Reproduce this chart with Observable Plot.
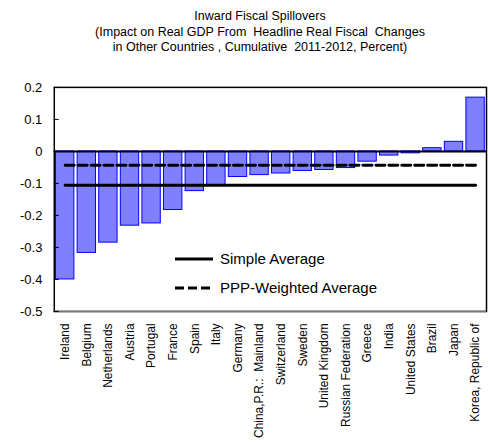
<!DOCTYPE html>
<html>
<head>
<meta charset="utf-8">
<script src="https://cdn.jsdelivr.net/npm/d3@7"></script>
<script src="https://cdn.jsdelivr.net/npm/@observablehq/plot@0.6"></script>
<style>
  html, body { margin: 0; padding: 0; background: #fff; overflow: hidden; }
  body { width: 488px; height: 445px; position: relative; font-family: "Liberation Sans", Arial, sans-serif; }
  #title { position: absolute; left: 32px; top: 9px; width: 456px; text-align: center; font-size: 12.5px; line-height: 15.5px; color: #000; }
  #chart { position: absolute; left: 0; top: 60px; }
  #legend { position: absolute; left: 0; top: 0; pointer-events: none; }
</style>
</head>
<body>
<div id="title">Inward Fiscal Spillovers<br>(Impact on Real GDP From&nbsp; Headline Real Fiscal&nbsp; Changes<br>in Other Countries , Cumulative&nbsp; 2011-2012, Percent)</div>
<div id="chart"></div>
<script>
const countries = ["Ireland","Belgium","Netherlands","Austria","Portugal","France","Spain","Italy","Germany","China,P.R.:  Mainland","Switzerland","Sweden","United Kingdom","Russian Federation","Greece","India","United States","Brazil","Japan","Korea, Republic of"];
const spillover = [-0.400,-0.317,-0.285,-0.232,-0.225,-0.183,-0.124,-0.105,-0.080,-0.074,-0.069,-0.061,-0.058,-0.052,-0.032,-0.013,-0.006,0.010,0.030,0.168];
const simpleAverage = -0.106;
const pppWeightedAverage = -0.043;
const yTicks = [-0.5,-0.4,-0.3,-0.2,-0.1,0,0.1,0.2];
const legendLabels = ["Simple Average","PPP-Weighted Average"];

const bars = countries.map((c, i) => ({country: c, value: spillover[i]}));
const ends = [countries[0], countries[countries.length - 1]];
const simpleLine = ends.map(c => ({country: c, value: simpleAverage}));
const pppLine = ends.map(c => ({country: c, value: pppWeightedAverage}));

const chart = Plot.plot({
  width: 490,
  height: 385,
  marginTop: 27,
  marginBottom: 133,
  marginLeft: 54,
  marginRight: 2,
  style: {fontFamily: "'Liberation Sans', Arial, sans-serif", fontSize: "12px", color: "#000", background: "#fff"},
  x: {domain: countries, paddingInner: 0.15, paddingOuter: 0.08, round: false, label: null},
  y: {domain: [-0.5, 0.2], label: null},
  marks: [
    Plot.frame({stroke: "#000", strokeWidth: 1.5}),
    Plot.barY(bars, {x: "country", y: "value", fill: "#8080ff", stroke: "#0000ff", strokeWidth: 1}),
    Plot.ruleY([-0.5], {stroke: "#777", strokeWidth: 1.5}),
    Plot.ruleY([0], {stroke: "#000", strokeWidth: 2}),
    Plot.line(simpleLine, {x: "country", y: "value", stroke: "#000", strokeWidth: 3}),
    Plot.line(pppLine, {x: "country", y: "value", stroke: "#000", strokeWidth: 3, strokeDasharray: "9,4"}),
    Plot.axisY({ticks: yTicks, tickSize: -5, tickPadding: 17, tickFormat: d => d === 0 ? "0" : d.toFixed(1), fontSize: 13}),
    Plot.axisX({tickSize: 0, tickRotate: -90, tickPadding: 12, fontSize: 12})
  ]
});
document.getElementById("chart").appendChild(chart);

// legend overlay (inside plot area)
const svgNS = "http://www.w3.org/2000/svg";
const leg = document.createElementNS(svgNS, "svg");
leg.setAttribute("id", "legend");
leg.setAttribute("width", 488);
leg.setAttribute("height", 445);
const items = [{label: legendLabels[0], dash: null}, {label: legendLabels[1], dash: "9,4"}];
items.forEach((it, i) => {
  const y = 259 + i * 29;
  const l = document.createElementNS(svgNS, "line");
  l.setAttribute("x1", 175); l.setAttribute("x2", 213);
  l.setAttribute("y1", y); l.setAttribute("y2", y);
  l.setAttribute("stroke", "#000"); l.setAttribute("stroke-width", 3);
  if (it.dash) l.setAttribute("stroke-dasharray", it.dash);
  leg.appendChild(l);
  const t = document.createElementNS(svgNS, "text");
  t.setAttribute("x", 220); t.setAttribute("y", y);
  t.setAttribute("dy", "0.35em");
  t.setAttribute("font-size", "15px");
  t.setAttribute("font-family", "'Liberation Sans', Arial, sans-serif");
  t.textContent = it.label;
  leg.appendChild(t);
});
document.body.appendChild(leg);
</script>
</body>
</html>
